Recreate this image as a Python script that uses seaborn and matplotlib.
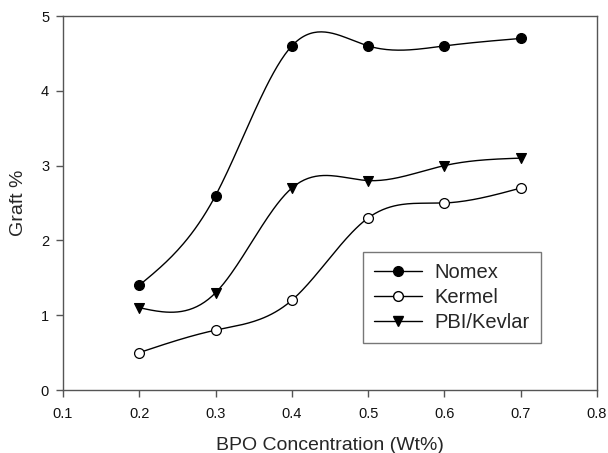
import numpy as np
import pandas as pd
import matplotlib
matplotlib.use("Agg")
import matplotlib.pyplot as plt
import seaborn as sns
from matplotlib.lines import Line2D

# values
bpo = [0.2, 0.3, 0.4, 0.5, 0.6, 0.7]
nomex = [1.4, 2.6, 4.6, 4.6, 4.6, 4.7]
kermel = [0.5, 0.8, 1.2, 2.3, 2.5, 2.7]
pbi_kevlar = [1.1, 1.3, 2.7, 2.8, 3.0, 3.1]

series = [("Nomex", nomex, "o", "black"),
          ("Kermel", kermel, "o", "white"),
          ("PBI/Kevlar", pbi_kevlar, "v", "black")]


def natural_spline(x, y, n=200):
    """Natural cubic spline through the points, for the smooth connecting line."""
    x = np.asarray(x, float)
    y = np.asarray(y, float)
    k = len(x)
    h = np.diff(x)
    A = np.zeros((k, k))
    b = np.zeros(k)
    A[0, 0] = A[-1, -1] = 1
    for i in range(1, k - 1):
        A[i, i - 1] = h[i - 1]
        A[i, i] = 2 * (h[i - 1] + h[i])
        A[i, i + 1] = h[i]
        b[i] = 3 * ((y[i + 1] - y[i]) / h[i] - (y[i] - y[i - 1]) / h[i - 1])
    c = np.linalg.solve(A, b)
    xs = np.linspace(x[0], x[-1], n)
    idx = np.clip(np.searchsorted(x, xs) - 1, 0, k - 2)
    dx = xs - x[idx]
    bb = (y[idx + 1] - y[idx]) / h[idx] - h[idx] * (2 * c[idx] + c[idx + 1]) / 3
    dd = (c[idx + 1] - c[idx]) / (3 * h[idx])
    ys = y[idx] + bb * dx + c[idx] * dx ** 2 + dd * dx ** 3
    return xs, ys


sns.set_style("ticks")
plt.rcParams["font.family"] = ["Liberation Sans", "DejaVu Sans"]

fig = plt.figure(figsize=(6.08, 4.53), dpi=100)
ax = fig.add_axes([63 / 608, 1 - 390 / 453, 534 / 608, 374 / 453])

handles = []
for name, vals, mk, fc in series:
    xs, ys = natural_spline(bpo, vals)
    curve = pd.DataFrame({"x": xs, "y": ys})
    sns.lineplot(data=curve, x="x", y="y", ax=ax, color="black", lw=1.0)
    pts = pd.DataFrame({"x": bpo, "y": vals})
    sns.scatterplot(data=pts, x="x", y="y", ax=ax, marker=mk, s=50,
                    color=fc, edgecolor="black", linewidth=0.9, zorder=3)
    handles.append(Line2D([], [], color="black", lw=1.0, marker=mk,
                          markersize=7, markerfacecolor=fc,
                          markeredgecolor="black", label=name))

ax.set_xlim(0.1, 0.8)
ax.set_ylim(0, 5)
ax.set_xticks([0.1, 0.2, 0.3, 0.4, 0.5, 0.6, 0.7, 0.8])
ax.set_xticklabels(["0.1", "0.2", "0.3", "0.4", "0.5", "0.6", "0.7", "0.8"])
ax.set_yticks([0, 1, 2, 3, 4, 5])
ax.tick_params(direction="out", length=5, width=1, labelsize=10.5,
               color="#555555", labelcolor="#111111")
ax.tick_params(axis="x", pad=7)
ax.tick_params(axis="y", pad=5)
for sp in ax.spines.values():
    sp.set_color("#555555")
    sp.set_linewidth(1)
ax.set_xlabel("BPO Concentration (Wt%)", fontsize=14, labelpad=12)
ax.set_ylabel("Graft %", fontsize=14, labelpad=10)

leg = ax.legend(handles=handles, loc="upper left",
                bbox_to_anchor=((363 - 63) / 534, (390 - 252) / 374),
                borderaxespad=0, fontsize=14.5, frameon=True, fancybox=False,
                borderpad=0.55, handlelength=2.4, handletextpad=0.6,
                labelspacing=0.3)
leg.get_frame().set_edgecolor("#555555")
leg.get_frame().set_linewidth(1)

fig.savefig("out.png", dpi=100)
